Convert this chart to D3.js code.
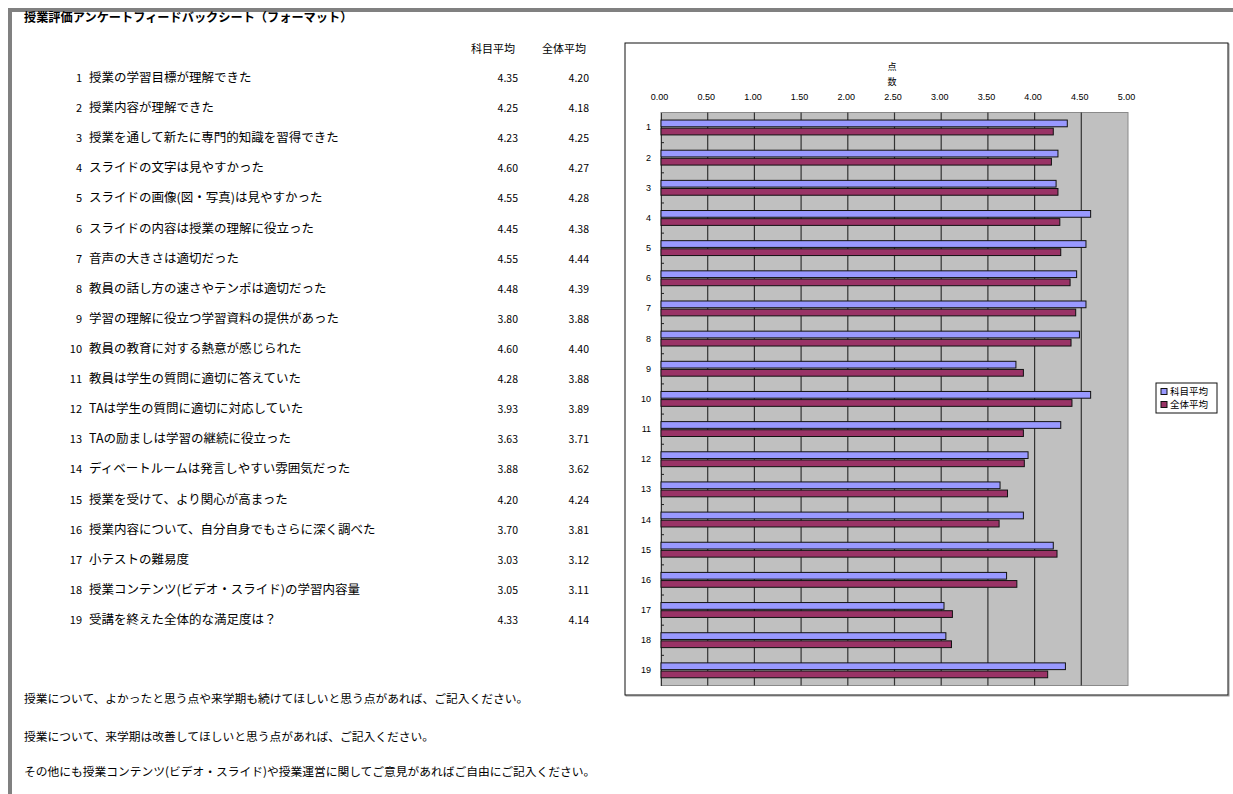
<!DOCTYPE html>
<html>
<head>
<meta charset="utf-8">
<script src="https://cdn.jsdelivr.net/npm/d3@7"></script>
<style>
  body { margin: 0; background: #fff; }
  text { font-family: "Noto Sans CJK JP", "Noto Sans", sans-serif; fill: #000; }
</style>
</head>
<body>
<div id="sheet"></div>
<script>
// survey items
const categories = ["1", "2", "3", "4", "5", "6", "7", "8", "9", "10",
	"11", "12", "13", "14", "15", "16", "17", "18", "19"];
const questions = [
	"授業の学習目標が理解できた",
	"授業内容が理解できた",
	"授業を通して新たに専門的知識を習得できた",
	"スライドの文字は見やすかった",
	"スライドの画像(図・写真)は見やすかった",
	"スライドの内容は授業の理解に役立った",
	"音声の大きさは適切だった",
	"教員の話し方の速さやテンポは適切だった",
	"学習の理解に役立つ学習資料の提供があった",
	"教員の教育に対する熱意が感じられた",
	"教員は学生の質問に適切に答えていた",
	"TAは学生の質問に適切に対応していた",
	"TAの励ましは学習の継続に役立った",
	"ディベートルームは発言しやすい雰囲気だった",
	"授業を受けて、より関心が高まった",
	"授業内容について、自分自身でもさらに深く調べた",
	"小テストの難易度",
	"授業コンテンツ(ビデオ・スライド)の学習内容量",
	"受講を終えた全体的な満足度は？"
];
const seriesNames = ["科目平均", "全体平均"];
const subjectAvg = [4.35, 4.25, 4.23, 4.60, 4.55, 4.45, 4.55, 4.48, 3.80, 4.60,
	4.28, 3.93, 3.63, 3.88, 4.20, 3.70, 3.03, 3.05, 4.33];
const overallAvg = [4.20, 4.18, 4.25, 4.27, 4.28, 4.38, 4.44, 4.39, 3.88, 4.40,
	3.88, 3.89, 3.71, 3.62, 4.24, 3.81, 3.12, 3.11, 4.14];
const xTicks = [0, 0.5, 1, 1.5, 2, 2.5, 3, 3.5, 4, 4.5, 5];
const axisTitle = ["点", "数"];
const sheetTitle = "授業評価アンケートフィードバックシート（フォーマット）";
const comments = [
	"授業について、よかったと思う点や来学期も続けてほしいと思う点があれば、ご記入ください。",
	"授業について、来学期は改善してほしいと思う点があれば、ご記入ください。",
	"その他にも授業コンテンツ(ビデオ・スライド)や授業運営に関してご意見があればご自由にご記入ください。"
];
const colors = ["#9999ff", "#993366"];

let svg = d3.select("#sheet")
	.append("svg")
	.attr("width", 1233)
	.attr("height", 794);

// gray sheet border (top and left)
svg.append("rect").attr("x", 8).attr("y", 8).attr("width", 1225).attr("height", 4).attr("fill", "#808080");
svg.append("rect").attr("x", 8).attr("y", 8).attr("width", 4).attr("height", 786).attr("fill", "#808080");

svg.append("text")
	.attr("x", 24).attr("y", 22)
	.style("font-size", "12.2px").style("font-weight", "bold")
	.text(sheetTitle);

// ---- table on the left ----
let rowY = d3.scalePoint().domain(categories).range([78, 620]);

svg.selectAll(".colhead")
	.data(seriesNames)
	.enter().append("text")
	.attr("class", "colhead")
	.attr("x", (d, i) => i == 0 ? 493 : 564)
	.attr("y", 53)
	.attr("text-anchor", "middle")
	.style("font-size", "11px")
	.text(d => d);

let rows = svg.selectAll(".row")
	.data(categories)
	.enter().append("g")
	.attr("class", "row")
	.attr("transform", d => "translate(0," + rowY(d) + ")");

rows.append("text")
	.attr("x", 82).attr("y", 4)
	.attr("text-anchor", "end")
	.style("font-size", "11px")
	.text(d => d);

rows.append("text")
	.attr("x", 89).attr("y", 4)
	.style("font-size", "12.5px")
	.text((d, i) => questions[i]);

rows.append("text")
	.attr("x", 518).attr("y", 4)
	.attr("text-anchor", "end")
	.style("font-size", "10.5px")
	.text((d, i) => subjectAvg[i].toFixed(2));

rows.append("text")
	.attr("x", 589).attr("y", 4)
	.attr("text-anchor", "end")
	.style("font-size", "10.5px")
	.text((d, i) => overallAvg[i].toFixed(2));

svg.selectAll(".comment")
	.data(comments)
	.enter().append("text")
	.attr("class", "comment")
	.attr("x", 24)
	.attr("y", (d, i) => [703, 741, 776][i])
	.style("font-size", "11.75px")
	.text(d => d);

// ---- chart on the right ----
svg.append("rect")
	.attr("x", 626).attr("y", 44).attr("width", 603).attr("height", 652)
	.attr("fill", "none").attr("stroke", "#999").attr("stroke-width", 1);
svg.append("rect")
	.attr("x", 625).attr("y", 43).attr("width", 603).attr("height", 652)
	.attr("fill", "#fff").attr("stroke", "#111").attr("stroke-width", 1);

let plot = { left: 661, right: 1128, top: 112.5, bottom: 685.5 };

let x = d3.scaleLinear().domain([0, 5]).range([plot.left, plot.right]);
let y0 = d3.scaleBand().domain(categories).range([plot.top, plot.bottom]).padding(0);
let y1 = d3.scaleBand().domain(seriesNames).range([0, y0.bandwidth()]).paddingOuter(1);

svg.append("rect")
	.attr("x", plot.left).attr("y", plot.top)
	.attr("width", plot.right - plot.left).attr("height", plot.bottom - plot.top)
	.attr("fill", "#c0c0c0").attr("stroke", "#8a8a8a");

// vertical gridlines
svg.selectAll(".grid")
	.data(xTicks.slice(1, -1))
	.enter().append("line")
	.attr("class", "grid")
	.attr("x1", d => x(d)).attr("x2", d => x(d))
	.attr("y1", plot.top).attr("y2", plot.bottom)
	.attr("stroke", "#333").attr("stroke-width", 1.2);

// top value axis
let xAxis = svg.append("g")
	.attr("transform", "translate(-2," + plot.top + ")")
	.call(d3.axisTop(x).tickValues(xTicks).tickFormat(d3.format(".2f")).tickSize(0).tickPadding(13));
xAxis.select(".domain").remove();
xAxis.selectAll("text")
	.style("font-size", "9px")
	.style("font-family", "\"Liberation Sans\", sans-serif");

svg.selectAll(".atitle")
	.data(axisTitle)
	.enter().append("text")
	.attr("class", "atitle")
	.attr("x", 892)
	.attr("y", (d, i) => 70 + i * 15)
	.attr("text-anchor", "middle")
	.style("font-size", "9px")
	.text(d => d);

// category axis
let yAxis = svg.append("g")
	.attr("transform", "translate(" + plot.left + ",0)")
	.call(d3.axisLeft(y0).tickSize(0).tickPadding(10));
yAxis.select(".domain").attr("stroke", "#333");
yAxis.selectAll("text")
	.style("font-size", "9px")
	.style("font-family", "\"Liberation Sans\", sans-serif");

// small category tick marks at band boundaries
svg.selectAll(".ctick")
	.data(categories.slice(1))
	.enter().append("line")
	.attr("class", "ctick")
	.attr("x1", plot.left).attr("x2", plot.left + 3)
	.attr("y1", d => y0(d)).attr("y2", d => y0(d))
	.attr("stroke", "#222");

// bars
let groups = svg.selectAll(".bargroup")
	.data(categories)
	.enter().append("g")
	.attr("class", "bargroup")
	.attr("transform", d => "translate(0," + y0(d) + ")");

groups.selectAll("rect")
	.data((d, i) => [subjectAvg[i], overallAvg[i]].map((v, k) => ({ key: seriesNames[k], value: v, k: k })))
	.enter().append("rect")
	.attr("x", x(0))
	.attr("y", d => y1(d.key) + (d.k == 0 ? 0 : 0.6))
	.attr("width", d => x(d.value) - x(0))
	.attr("height", y1.bandwidth() - 0.8)
	.attr("fill", d => colors[d.k])
	.attr("stroke", "#111")
	.attr("stroke-width", 1);

// legend
let legend = svg.append("g").attr("transform", "translate(1156,383)");
legend.append("rect")
	.attr("width", 61).attr("height", 30)
	.attr("fill", "#fff").attr("stroke", "#111");
let items = legend.selectAll(".item")
	.data(seriesNames)
	.enter().append("g")
	.attr("class", "item")
	.attr("transform", (d, i) => "translate(5," + (8.5 + i * 13) + ")");
items.append("rect")
	.attr("x", 0).attr("y", -3).attr("width", 6).attr("height", 6)
	.attr("fill", (d, i) => colors[i]).attr("stroke", "#111");
items.append("text")
	.attr("x", 9).attr("y", 3.5)
	.style("font-size", "9.5px")
	.text(d => d);
</script>
</body>
</html>
